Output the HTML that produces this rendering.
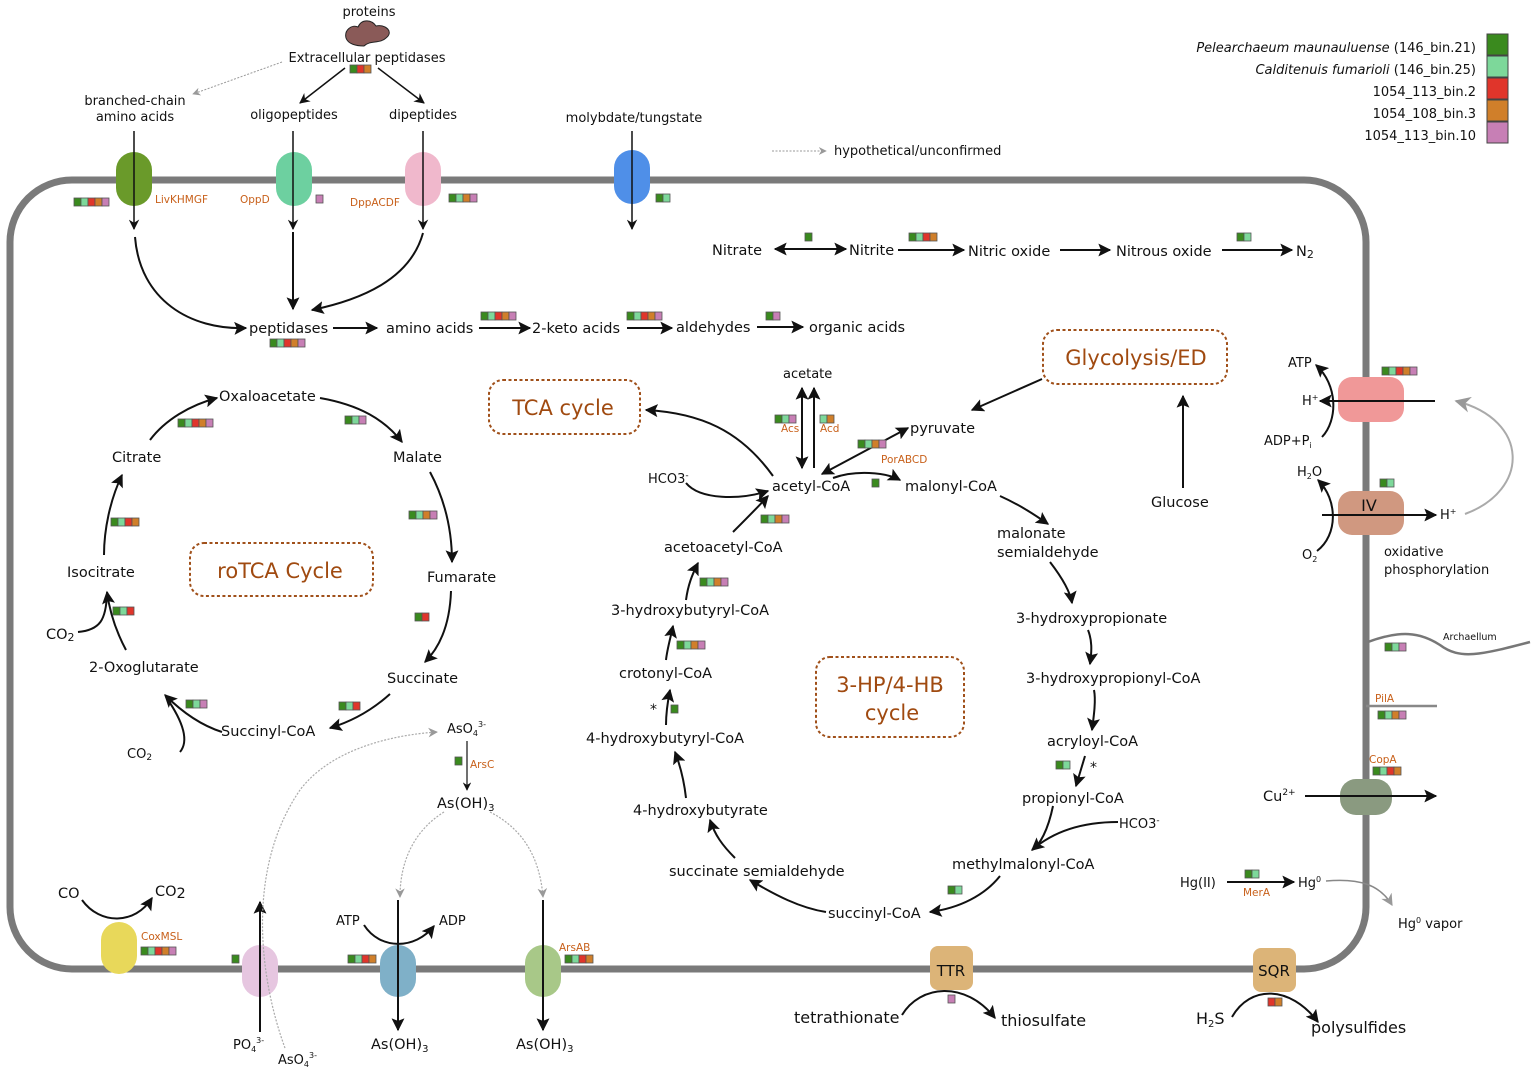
<!DOCTYPE html>
<html><head><meta charset="utf-8"><style>
html,body{margin:0;padding:0;background:#fff}
svg{display:block}
text{font-family:"DejaVu Sans","Liberation Sans",sans-serif;fill:#111}
.t{font-size:14.5px}
.s{font-size:13px}
.o{font-size:10.5px;fill:#c8601a}
.c{font-size:21px;fill:#a04a10}
</style></head><body>
<svg width="1535" height="1073" viewBox="0 0 1535 1073" xmlns="http://www.w3.org/2000/svg">
<defs>
<marker id="a" viewBox="0 0 10 10" refX="9" refY="5" markerWidth="7" markerHeight="7" orient="auto-start-reverse"><path d="M0,0 L10,5 L0,10 L3,5z" fill="#111"/></marker>
<marker id="ab" viewBox="0 0 10 10" refX="9" refY="5" markerWidth="6.5" markerHeight="6.5" orient="auto-start-reverse"><path d="M0,0 L10,5 L0,10 L2,5z" fill="#111"/></marker>
<marker id="ag" viewBox="0 0 10 10" refX="9" refY="5" markerWidth="8" markerHeight="8" orient="auto"><path d="M0,0 L10,5 L0,10 L3,5z" fill="#999"/></marker>
<rect id="G" width="7" height="8" fill="#3a8a1e" stroke="#555" stroke-width="0.8"/>
<rect id="L" width="7" height="8" fill="#7dd89a" stroke="#555" stroke-width="0.8"/>
<rect id="R" width="7" height="8" fill="#e0352b" stroke="#555" stroke-width="0.8"/>
<rect id="O" width="7" height="8" fill="#d07f2a" stroke="#555" stroke-width="0.8"/>
<rect id="P" width="7" height="8" fill="#c77fb5" stroke="#555" stroke-width="0.8"/>
<g id="GLROP"><use href="#G"/><use href="#L" x="7"/><use href="#R" x="14"/><use href="#O" x="21"/><use href="#P" x="28"/></g>
<g id="GLOP"><use href="#G"/><use href="#L" x="7"/><use href="#O" x="14"/><use href="#P" x="21"/></g>
<g id="GLRO"><use href="#G"/><use href="#L" x="7"/><use href="#R" x="14"/><use href="#O" x="21"/></g>
<g id="GLP"><use href="#G"/><use href="#L" x="7"/><use href="#P" x="14"/></g>
<g id="GLR"><use href="#G"/><use href="#L" x="7"/><use href="#R" x="14"/></g>
<g id="GRO"><use href="#G"/><use href="#R" x="7"/><use href="#O" x="14"/></g>
<g id="GL"><use href="#G"/><use href="#L" x="7"/></g>
<g id="GR"><use href="#G"/><use href="#R" x="7"/></g>
<g id="GP"><use href="#G"/><use href="#P" x="7"/></g>
<g id="LO"><use href="#L"/><use href="#O" x="7"/></g>
<g id="RO"><use href="#R"/><use href="#O" x="7"/></g>
</defs>

<rect x="10" y="180" width="1356" height="789" rx="62" fill="none" stroke="#7a7a7a" stroke-width="7"/>

<g class="s">
<text x="1476" y="52" text-anchor="end" font-style="italic">Pelearchaeum maunauluense <tspan font-style="normal">(146_bin.21)</tspan></text>
<text x="1476" y="74" text-anchor="end" font-style="italic">Calditenuis fumarioli <tspan font-style="normal">(146_bin.25)</tspan></text>
<text x="1476" y="96" text-anchor="end">1054_113_bin.2</text>
<text x="1476" y="118" text-anchor="end">1054_108_bin.3</text>
<text x="1476" y="140" text-anchor="end">1054_113_bin.10</text>
</g>
<rect x="1487" y="34" width="21" height="21" fill="#3a8a1e" stroke="#444"/>
<rect x="1487" y="56" width="21" height="21" fill="#7dd89a" stroke="#444"/>
<rect x="1487" y="78" width="21" height="21" fill="#e0352b" stroke="#444"/>
<rect x="1487" y="100" width="21" height="21" fill="#d07f2a" stroke="#444"/>
<rect x="1487" y="122" width="21" height="21" fill="#c77fb5" stroke="#444"/>
<line x1="772" y1="151" x2="826" y2="151" stroke="#999" stroke-dasharray="2,1.5" marker-end="url(#ag)"/>
<text x="834" y="155" class="s">hypothetical/unconfirmed</text>

<text x="369" y="16" class="s" text-anchor="middle">proteins</text>
<path d="M346,38 C344,30 352,24 358,27 C362,18 372,20 376,26 C386,24 394,32 386,38 C380,44 370,40 364,46 C356,46 348,44 346,38z" fill="#8a5a58" stroke="#222" stroke-width="1"/>
<text x="367" y="62" class="s" text-anchor="middle">Extracellular peptidases</text>
<use href="#GRO" x="350" y="65"/>
<line x1="282" y1="62" x2="193" y2="94" stroke="#999" stroke-dasharray="2,1.5" marker-end="url(#ag)"/>
<line x1="345" y1="68" x2="300" y2="103" stroke="#111" stroke-width="1.5" marker-end="url(#a)"/>
<line x1="378" y1="68" x2="424" y2="103" stroke="#111" stroke-width="1.5" marker-end="url(#a)"/>
<text x="135" y="105" class="s" text-anchor="middle">branched-chain</text>
<text x="135" y="121" class="s" text-anchor="middle">amino acids</text>
<text x="294" y="119" class="s" text-anchor="middle">oligopeptides</text>
<text x="423" y="119" class="s" text-anchor="middle">dipeptides</text>
<text x="634" y="122" class="s" text-anchor="middle">molybdate/tungstate</text>

<rect x="116" y="152" width="36" height="54" rx="18" fill="#6a9a2a"/>
<rect x="276" y="152" width="36" height="54" rx="18" fill="#6dd0a0"/>
<rect x="405" y="152" width="36" height="54" rx="18" fill="#f0b8cc"/>
<rect x="614" y="150" width="36" height="54" rx="18" fill="#4f8fe8"/>
<g stroke="#111" stroke-width="1.5" fill="none">
<line x1="134" y1="131" x2="134" y2="229" marker-end="url(#a)"/>
<line x1="293" y1="131" x2="293" y2="229" marker-end="url(#a)"/>
<line x1="423" y1="131" x2="423" y2="229" marker-end="url(#a)"/>
<line x1="632" y1="131" x2="632" y2="229" marker-end="url(#a)"/>
</g>
<g stroke="#111" stroke-width="2" fill="none">
<path d="M135,237 C140,300 190,330 246,328" marker-end="url(#ab)"/>
<line x1="293" y1="232" x2="293" y2="309" marker-end="url(#ab)"/>
<path d="M423,233 C410,280 360,300 312,310" marker-end="url(#ab)"/>
</g>
<text x="155" y="203" class="o">LivKHMGF</text>
<text x="240" y="203" class="o">OppD</text>
<text x="350" y="206" class="o">DppACDF</text>
<use href="#GLROP" x="74" y="198"/>
<use href="#P" x="316" y="195"/>
<use href="#GLOP" x="449" y="194"/>
<use href="#GL" x="656" y="194"/>

<g class="t">
<text x="249" y="333">peptidases</text>
<text x="386" y="333">amino acids</text>
<text x="532" y="333">2-keto acids</text>
<text x="676" y="332">aldehydes</text>
<text x="809" y="332">organic acids</text>
</g>
<g stroke="#111" stroke-width="2" fill="none">
<line x1="333" y1="328" x2="377" y2="328" marker-end="url(#ab)"/>
<line x1="479" y1="328" x2="530" y2="328" marker-end="url(#ab)"/>
<line x1="627" y1="328" x2="672" y2="328" marker-end="url(#ab)"/>
<line x1="757" y1="327" x2="803" y2="327" marker-end="url(#ab)"/>
</g>
<use href="#GLROP" x="270" y="339"/>
<use href="#GLROP" x="481" y="312"/>
<use href="#GLROP" x="627" y="312"/>
<use href="#GP" x="766" y="312"/>

<g class="t">
<text x="712" y="255">Nitrate</text>
<text x="849" y="255">Nitrite</text>
<text x="968" y="256">Nitric oxide</text>
<text x="1116" y="256">Nitrous oxide</text>
<text x="1296" y="256">N<tspan font-size="11" dy="2">2</tspan></text>
</g>
<g stroke="#111" stroke-width="2" fill="none">
<line x1="775" y1="249" x2="846" y2="249" marker-start="url(#ab)" marker-end="url(#ab)"/>
<line x1="898" y1="250" x2="964" y2="250" marker-end="url(#ab)"/>
<line x1="1060" y1="250" x2="1110" y2="250" marker-end="url(#ab)"/>
<line x1="1222" y1="250" x2="1292" y2="250" marker-end="url(#ab)"/>
</g>
<use href="#G" x="805" y="233"/>
<use href="#GLRO" x="909" y="233"/>
<use href="#GL" x="1237" y="233"/>

<g class="t">
<text x="219" y="401">Oxaloacetate</text>
<text x="393" y="462">Malate</text>
<text x="112" y="462">Citrate</text>
<text x="427" y="582">Fumarate</text>
<text x="67" y="577">Isocitrate</text>
<text x="387" y="683">Succinate</text>
<text x="89" y="672">2-Oxoglutarate</text>
<text x="221" y="736">Succinyl-CoA</text>
<text x="46" y="639">CO<tspan font-size="11" dy="2">2</tspan></text>
</g>
<text x="127" y="758" class="s">CO<tspan font-size="9" dy="2">2</tspan></text>
<rect x="190" y="543" width="183" height="53" rx="14" fill="none" stroke="#a0501a" stroke-width="2" stroke-dasharray="3,2.5"/>
<text x="280" y="578" class="c" text-anchor="middle">roTCA Cycle</text>
<g stroke="#111" stroke-width="2" fill="none">
<path d="M320,398 C360,405 385,420 402,442" marker-end="url(#ab)"/>
<path d="M430,472 C445,500 452,530 452,562" marker-end="url(#ab)"/>
<path d="M451,591 C450,620 442,645 425,662" marker-end="url(#ab)"/>
<path d="M390,694 C370,712 350,722 330,728" marker-end="url(#ab)"/>
<path d="M222,732 C200,725 180,710 165,695" marker-end="url(#ab)"/>
<path d="M180,752 C190,740 182,720 166,697"/>
<path d="M126,650 C118,635 110,615 107,592" marker-end="url(#ab)"/>
<path d="M78,632 C100,630 106,620 107,594"/>
<path d="M104,555 C104,530 110,500 122,475" marker-end="url(#ab)"/>
<path d="M150,440 C165,420 190,405 217,398" marker-end="url(#ab)"/>
</g>
<use href="#GLP" x="345" y="416"/>
<use href="#GLROP" x="178" y="419"/>
<use href="#GLOP" x="409" y="511"/>
<use href="#GLRO" x="111" y="518"/>
<use href="#GLR" x="113" y="607"/>
<use href="#GR" x="415" y="613"/>
<use href="#GLR" x="339" y="702"/>
<use href="#GLP" x="186" y="700"/>

<rect x="489" y="380" width="151" height="54" rx="14" fill="none" stroke="#a0501a" stroke-width="2" stroke-dasharray="3,2.5"/>
<text x="563" y="415" class="c" text-anchor="middle">TCA cycle</text>
<rect x="1043" y="330" width="184" height="54" rx="14" fill="none" stroke="#a0501a" stroke-width="2" stroke-dasharray="3,2.5"/>
<text x="1136" y="365" class="c" text-anchor="middle">Glycolysis/ED</text>
<rect x="816" y="657" width="148" height="80" rx="14" fill="none" stroke="#a0501a" stroke-width="2" stroke-dasharray="3,2.5"/>
<text x="890" y="692" class="c" text-anchor="middle">3-HP/4-HB</text>
<text x="892" y="720" class="c" text-anchor="middle">cycle</text>

<g class="t">
<text x="783" y="378" class="s">acetate</text>
<text x="910" y="433">pyruvate</text>
<text x="772" y="491">acetyl-CoA</text>
<text x="905" y="491">malonyl-CoA</text>
<text x="648" y="483" font-size="13">HCO3<tspan dy="-5" font-size="9">-</tspan></text>
<text x="1151" y="507">Glucose</text>
<text x="664" y="552">acetoacetyl-CoA</text>
<text x="997" y="538">malonate</text>
<text x="997" y="557">semialdehyde</text>
<text x="611" y="615">3-hydroxybutyryl-CoA</text>
<text x="1016" y="623">3-hydroxypropionate</text>
<text x="619" y="678">crotonyl-CoA</text>
<text x="1026" y="683">3-hydroxypropionyl-CoA</text>
<text x="586" y="743">4-hydroxybutyryl-CoA</text>
<text x="1047" y="746">acryloyl-CoA</text>
<text x="633" y="815">4-hydroxybutyrate</text>
<text x="1022" y="803">propionyl-CoA</text>
<text x="1119" y="828" font-size="13">HCO3<tspan dy="-5" font-size="9">-</tspan></text>
<text x="669" y="876">succinate semialdehyde</text>
<text x="952" y="869">methylmalonyl-CoA</text>
<text x="828" y="918">succinyl-CoA</text>
</g>
<text x="650" y="714" font-size="14">*</text>
<text x="1090" y="772" font-size="14">*</text>
<g stroke="#111" stroke-width="2" fill="none">
<line x1="802" y1="468" x2="802" y2="388" marker-start="url(#ab)" marker-end="url(#ab)"/>
<line x1="814" y1="468" x2="814" y2="388" marker-end="url(#ab)"/>
<line x1="822" y1="474" x2="908" y2="428" marker-start="url(#ab)" marker-end="url(#ab)"/>
<line x1="1042" y1="379" x2="972" y2="410" marker-end="url(#ab)"/>
<line x1="1183" y1="488" x2="1183" y2="396" marker-end="url(#ab)"/>
<path d="M773,476 C740,430 700,413 646,410" marker-end="url(#ab)"/>
<path d="M686,483 C700,500 740,500 768,491" marker-end="url(#ab)"/>
<path d="M733,532 C750,515 760,505 768,496" marker-end="url(#ab)"/>
<path d="M833,478 C855,470 885,472 900,480" marker-end="url(#ab)"/>
<path d="M1000,496 C1020,505 1035,515 1048,524" marker-end="url(#ab)"/>
<path d="M1050,562 C1060,575 1070,590 1072,603" marker-end="url(#ab)"/>
<path d="M1088,630 C1092,640 1092,650 1090,664" marker-end="url(#ab)"/>
<path d="M1094,690 C1096,700 1094,715 1092,730" marker-end="url(#ab)"/>
<path d="M1085,756 L1076,786" marker-end="url(#ab)"/>
<path d="M1118,822 C1085,822 1055,830 1032,850" marker-end="url(#ab)"/>
<path d="M1053,806 C1048,830 1040,845 1032,850"/>
<path d="M1000,876 C985,895 960,908 930,912" marker-end="url(#ab)"/>
<path d="M826,912 C800,908 775,895 750,880" marker-end="url(#ab)"/>
<path d="M735,858 C722,845 715,835 710,820" marker-end="url(#ab)"/>
<path d="M686,798 C684,780 680,765 675,752" marker-end="url(#ab)"/>
<path d="M666,725 C666,715 668,700 670,690" marker-end="url(#ab)"/>
<path d="M666,660 C667,650 670,640 673,626" marker-end="url(#ab)"/>
<path d="M686,600 C688,585 692,575 698,563" marker-end="url(#ab)"/>
</g>
<use href="#GLP" x="775" y="415"/><text x="781" y="432" class="o" font-size="9">Acs</text>
<use href="#LO" x="820" y="415"/><text x="820" y="432" class="o" font-size="9">Acd</text>
<use href="#GLOP" x="858" y="440"/><text x="881" y="463" class="o" font-size="9">PorABCD</text>
<use href="#G" x="872" y="479"/>
<use href="#GLOP" x="761" y="515"/>
<use href="#GLOP" x="700" y="578"/>
<use href="#GLOP" x="677" y="641"/>
<use href="#G" x="671" y="705"/>
<use href="#GL" x="1056" y="761"/>
<use href="#GL" x="948" y="886"/>

<rect x="1338" y="377" width="66" height="45" rx="14" fill="#f09898"/>
<rect x="1338" y="491" width="66" height="44" rx="14" fill="#d09880"/>
<text x="1369" y="511" font-size="16" text-anchor="middle">IV</text>
<g stroke="#111" stroke-width="2" fill="none">
<line x1="1435" y1="401" x2="1320" y2="401" marker-end="url(#ab)"/>
<path d="M1322,437 C1338,420 1338,385 1316,365" marker-end="url(#ab)"/>
<line x1="1322" y1="515" x2="1436" y2="515" marker-end="url(#ab)"/>
<path d="M1317,551 C1338,535 1338,500 1318,480" marker-end="url(#ab)"/>
</g>
<path d="M1465,514 C1530,490 1530,420 1456,401" stroke="#aaa" stroke-width="2" fill="none" marker-end="url(#ag)"/>
<text x="1288" y="367" class="s">ATP</text>
<text x="1302" y="405" class="s">H<tspan font-size="8" dy="-5">+</tspan></text>
<text x="1264" y="445" class="s">ADP+P<tspan font-size="8" dy="3">i</tspan></text>
<text x="1297" y="476" class="s">H<tspan font-size="8" dy="3">2</tspan><tspan dy="-3">O</tspan></text>
<text x="1440" y="519" class="s">H<tspan font-size="8" dy="-5">+</tspan></text>
<text x="1302" y="559" class="s">O<tspan font-size="8" dy="3">2</tspan></text>
<text x="1384" y="556" class="s">oxidative</text>
<text x="1384" y="574" class="s">phosphorylation</text>
<use href="#GLROP" x="1382" y="367"/>
<use href="#GL" x="1380" y="479"/>
<path d="M1368,642 C1400,630 1420,632 1440,645 C1460,660 1480,655 1530,642" stroke="#777" stroke-width="2.5" fill="none"/>
<text x="1443" y="640" font-size="9.5">Archaellum</text>
<use href="#GLP" x="1385" y="643"/>
<line x1="1366" y1="706" x2="1437" y2="706" stroke="#888" stroke-width="2.5"/>
<text x="1375" y="702" class="o" font-size="9">PilA</text>
<use href="#GLOP" x="1378" y="711"/>
<text x="1369" y="763" class="o" font-size="9">CopA</text>
<use href="#GLRO" x="1373" y="767"/>
<rect x="1340" y="779" width="52" height="36" rx="16" fill="#8a9a80"/>
<line x1="1305" y1="796" x2="1436" y2="796" stroke="#111" stroke-width="2" marker-end="url(#ab)"/>
<text x="1263" y="801" class="t">Cu<tspan font-size="9" dy="-6">2+</tspan></text>
<text x="1180" y="887" class="s">Hg(II)</text>
<line x1="1227" y1="882" x2="1294" y2="882" stroke="#111" stroke-width="2" marker-end="url(#ab)"/>
<use href="#GL" x="1245" y="870"/>
<text x="1243" y="896" class="o" font-size="9">MerA</text>
<text x="1298" y="887" class="s">Hg<tspan font-size="8" dy="-5">0</tspan></text>
<path d="M1326,881 C1360,878 1380,885 1392,905" stroke="#888" stroke-width="1.5" fill="none" marker-end="url(#ag)"/>
<text x="1398" y="928" class="s">Hg<tspan font-size="8" dy="-5">0</tspan><tspan dy="5"> vapor</tspan></text>

<rect x="101" y="922" width="36" height="52" rx="18" fill="#e8d85a"/>
<path d="M82,900 C100,925 135,925 152,898" stroke="#111" stroke-width="2" fill="none" marker-end="url(#ab)"/>
<text x="58" y="898" class="t">CO</text>
<text x="155" y="896" class="t">CO<tspan dy="2">2</tspan></text>
<text x="141" y="940" class="o" font-size="9">CoxMSL</text>
<use href="#GLROP" x="141" y="947"/>

<rect x="242" y="945" width="36" height="52" rx="18" fill="#e6c6e0"/>
<line x1="260" y1="1032" x2="260" y2="902" stroke="#111" stroke-width="2" marker-end="url(#ab)"/>
<use href="#G" x="232" y="955"/>
<text x="233" y="1049" class="s">PO<tspan font-size="8" dy="3">4</tspan><tspan font-size="8" dy="-9">3-</tspan></text>
<text x="278" y="1064" class="s">AsO<tspan font-size="8" dy="3">4</tspan><tspan font-size="8" dy="-9">3-</tspan></text>
<path d="M285,1048 C260,980 245,870 300,790 C330,750 390,735 437,732" stroke="#aaa" stroke-width="1.2" stroke-dasharray="2,1.5" fill="none" marker-end="url(#ag)"/>

<text x="447" y="733" class="s">AsO<tspan font-size="8" dy="3">4</tspan><tspan font-size="8" dy="-9">3-</tspan></text>
<line x1="467" y1="741" x2="467" y2="790" stroke="#111" stroke-width="1.2" marker-end="url(#a)"/>
<use href="#G" x="455" y="757"/><text x="470" y="768" class="o" font-size="9">ArsC</text>
<text x="437" y="808" class="t">As(OH)<tspan font-size="10" dy="3">3</tspan></text>
<path d="M444,812 C415,830 400,860 400,897" stroke="#aaa" stroke-width="1.2" stroke-dasharray="2,1.5" fill="none" marker-end="url(#ag)"/>
<path d="M490,812 C525,830 540,860 543,897" stroke="#aaa" stroke-width="1.2" stroke-dasharray="2,1.5" fill="none" marker-end="url(#ag)"/>

<rect x="380" y="945" width="36" height="52" rx="18" fill="#7fb0c8"/>
<line x1="398" y1="900" x2="398" y2="1030" stroke="#111" stroke-width="2" marker-end="url(#ab)"/>
<path d="M364,925 C380,950 415,950 434,926" stroke="#111" stroke-width="2" fill="none" marker-end="url(#ab)"/>
<text x="336" y="925" class="s">ATP</text>
<text x="439" y="925" class="s">ADP</text>
<use href="#GLRO" x="348" y="955"/>
<text x="371" y="1049" class="t">As(OH)<tspan font-size="10" dy="3">3</tspan></text>

<rect x="525" y="945" width="36" height="52" rx="18" fill="#a8c888"/>
<line x1="543" y1="900" x2="543" y2="1030" stroke="#111" stroke-width="2" marker-end="url(#ab)"/>
<text x="559" y="951" class="o" font-size="9">ArsAB</text>
<use href="#GLRO" x="565" y="955"/>
<text x="516" y="1049" class="t">As(OH)<tspan font-size="10" dy="3">3</tspan></text>

<rect x="930" y="946" width="43" height="44" rx="8" fill="#dcb478"/>
<text x="951" y="976" font-size="15" text-anchor="middle">TTR</text>
<path d="M902,1015 C920,985 965,980 995,1018" stroke="#111" stroke-width="2" fill="none" marker-end="url(#ab)"/>
<use href="#P" x="948" y="995"/>
<text x="794" y="1023" font-size="16">tetrathionate</text>
<text x="1001" y="1026" font-size="16">thiosulfate</text>

<rect x="1253" y="948" width="43" height="44" rx="8" fill="#dcb478"/>
<text x="1274" y="976" font-size="15" text-anchor="middle">SQR</text>
<path d="M1232,1017 C1250,985 1290,985 1318,1022" stroke="#111" stroke-width="2" fill="none" marker-end="url(#ab)"/>
<use href="#RO" x="1268" y="998"/>
<text x="1196" y="1024" font-size="16">H<tspan font-size="10" dy="3">2</tspan><tspan dy="-3">S</tspan></text>
<text x="1311" y="1033" font-size="16">polysulfides</text>
</svg>
</body></html>
